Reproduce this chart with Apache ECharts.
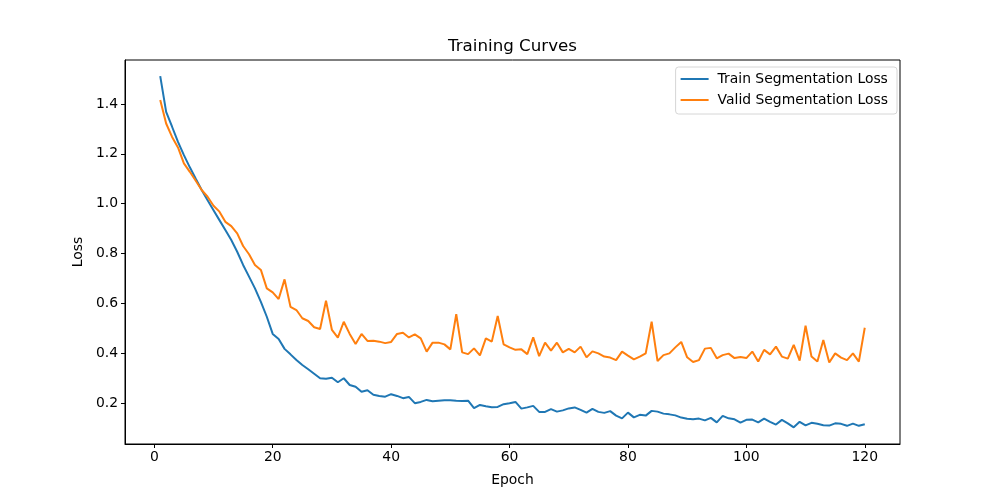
<!DOCTYPE html>
<html>
<head>
<meta charset="utf-8">
<title>Training Curves</title>
<script src="https://cdn.jsdelivr.net/npm/echarts@6/dist/echarts.min.js"></script>
<style>
  html, body { margin: 0; padding: 0; background: #fff; }
  #chart { width: 1000px; height: 500px; }
</style>
</head>
<body>
<div id="chart"></div>
<script>
// values, one per epoch (1..120)
var trainLoss = [
  1.512, 1.369, 1.309, 1.248, 1.195, 1.146, 1.100, 1.055, 1.014, 0.974,
  0.934, 0.894, 0.854, 0.807, 0.754, 0.707, 0.660, 0.606, 0.546, 0.477,
  0.457, 0.417, 0.395, 0.372, 0.352, 0.335, 0.317, 0.299, 0.297, 0.301,
  0.283, 0.299, 0.272, 0.265, 0.245, 0.251, 0.233, 0.228, 0.225, 0.235,
  0.228, 0.219, 0.224, 0.199, 0.204, 0.212, 0.207, 0.209, 0.211, 0.211,
  0.209, 0.208, 0.209, 0.179, 0.192, 0.187, 0.183, 0.184, 0.195, 0.199,
  0.204, 0.177, 0.182, 0.188, 0.164, 0.164, 0.175, 0.165, 0.170, 0.178,
  0.182, 0.172, 0.161, 0.176, 0.164, 0.160, 0.167, 0.149, 0.138, 0.161,
  0.142, 0.152, 0.149, 0.168, 0.165, 0.157, 0.154, 0.150, 0.141, 0.136,
  0.134, 0.137, 0.130, 0.140, 0.122, 0.148, 0.138, 0.134, 0.121, 0.132,
  0.133, 0.122, 0.137, 0.124, 0.113, 0.132, 0.118, 0.102, 0.124, 0.110,
  0.120, 0.116, 0.110, 0.109, 0.118, 0.116, 0.108, 0.117, 0.108, 0.114
];
var validLoss = [
  1.416, 1.322, 1.268, 1.226, 1.162, 1.128, 1.092, 1.055, 1.028, 0.992,
  0.968, 0.927, 0.910, 0.881, 0.830, 0.797, 0.754, 0.734, 0.660, 0.644,
  0.617, 0.696, 0.586, 0.573, 0.540, 0.529, 0.504, 0.497, 0.610, 0.493,
  0.462, 0.526, 0.477, 0.437, 0.477, 0.449, 0.450, 0.446, 0.440, 0.445,
  0.477, 0.482, 0.463, 0.475, 0.459, 0.406, 0.442, 0.442, 0.435, 0.415,
  0.556, 0.403, 0.396, 0.419, 0.391, 0.459, 0.446, 0.549, 0.435, 0.423,
  0.413, 0.415, 0.396, 0.463, 0.388, 0.442, 0.410, 0.442, 0.403, 0.417,
  0.403, 0.426, 0.383, 0.407, 0.399, 0.386, 0.382, 0.372, 0.406, 0.390,
  0.375, 0.386, 0.399, 0.526, 0.368, 0.392, 0.399, 0.423, 0.445, 0.383,
  0.364, 0.372, 0.418, 0.421, 0.379, 0.392, 0.398, 0.380, 0.384, 0.380,
  0.406, 0.366, 0.413, 0.395, 0.426, 0.386, 0.378, 0.433, 0.370, 0.510,
  0.386, 0.366, 0.453, 0.362, 0.399, 0.382, 0.372, 0.399, 0.366, 0.502
];
var xTicks = [0, 20, 40, 60, 80, 100, 120];
var yTicks = [0.2, 0.4, 0.6, 0.8, 1.0, 1.2, 1.4];

function pairs(vals) {
  var out = [];
  for (var i = 0; i < vals.length; i++) {
    out.push([i + 1, vals[i]]);
  }
  return out;
}

var font = 'DejaVu Sans';
var myChart = echarts.init(document.getElementById('chart'), null, { renderer: 'canvas' });
var option = {
  animation: false,
  backgroundColor: '#fff',
  textStyle: { fontFamily: font, color: '#000' },
  title: {
    text: 'Training Curves',
    left: 512.5,
    textAlign: 'center',
    top: 38,
    padding: 0,
    textStyle: { fontFamily: font, fontSize: 16.7, fontWeight: 'normal', color: '#000' }
  },
  legend: {
    orient: 'vertical',
    right: 103,
    top: 67,
    padding: [5, 9, 7, 5],
    itemGap: 7,
    itemWidth: 28,
    itemHeight: 2,
    icon: 'rect',
    backgroundColor: 'rgba(255,255,255,0.8)',
    borderColor: '#d6d6d6',
    borderWidth: 1,
    borderRadius: 3,
    textStyle: { fontFamily: font, fontSize: 13.9, color: '#000', padding: [0, 0, 0, 4] },
    data: ['Train Segmentation Loss', 'Valid Segmentation Loss']
  },
  grid: {
    left: 125,
    right: 100,
    top: 60,
    bottom: 56,
    show: true,
    borderColor: '#000',
    borderWidth: 1,
    backgroundColor: 'transparent'
  },
  xAxis: {
    type: 'value',
    min: -4.95,
    max: 125.95,
    name: 'Epoch',
    nameLocation: 'middle',
    nameGap: 29,
    nameTextStyle: { fontFamily: font, fontSize: 13.9, color: '#000' },
    axisLine: { show: true, onZero: false, lineStyle: { color: '#000', width: 1 } },
    axisTick: { show: true, length: 4, lineStyle: { color: '#000' }, customValues: xTicks },
    axisLabel: { fontFamily: font, fontSize: 13.9, color: '#000', margin: 6, customValues: xTicks },
    splitLine: { show: false }
  },
  yAxis: {
    type: 'value',
    min: 0.035,
    max: 1.577,
    name: 'Loss',
    nameLocation: 'middle',
    nameGap: 38,
    nameTextStyle: { fontFamily: font, fontSize: 13.9, color: '#000' },
    axisLine: { show: true, onZero: false, lineStyle: { color: '#000', width: 1 } },
    axisTick: { show: true, length: 4, lineStyle: { color: '#000' }, customValues: yTicks },
    axisLabel: {
      fontFamily: font, fontSize: 13.9, color: '#000', margin: 7,
      customValues: yTicks,
      formatter: function (v) { return v.toFixed(1); }
    },
    splitLine: { show: false }
  },
  series: [
    {
      name: 'Train Segmentation Loss',
      type: 'line',
      symbol: 'none',
      color: '#1f77b4',
      lineStyle: { color: '#1f77b4', width: 2 },
      data: pairs(trainLoss)
    },
    {
      name: 'Valid Segmentation Loss',
      type: 'line',
      symbol: 'none',
      color: '#ff7f0e',
      lineStyle: { color: '#ff7f0e', width: 2 },
      data: pairs(validLoss)
    }
  ]
};
myChart.setOption(option);
</script>
</body>
</html>
